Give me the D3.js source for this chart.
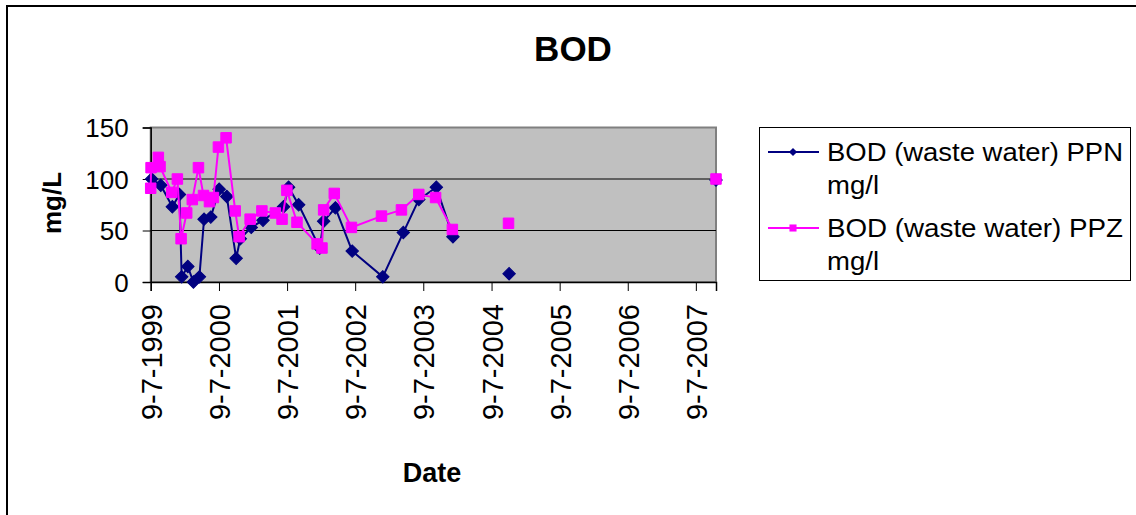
<!DOCTYPE html>
<html>
<head>
<meta charset="utf-8">
<script src="https://cdn.jsdelivr.net/npm/d3@7"></script>
<style>
  html, body { margin: 0; padding: 0; background: #fff; }
  svg { display: block; }
  text { font-family: "Liberation Sans", Arial, sans-serif; fill: #000; }
</style>
</head>
<body>
<svg id="chart" width="1136" height="515"></svg>
<script>
// ---- data ----
const chartTitle = "BOD";
const xAxisTitle = "Date";
const yAxisTitle = "mg/L";
const seriesNames = ["BOD (waste water) PPN", "BOD (waste water) PPZ"];
const seriesUnits = ["mg/l", "mg/l"];

const xTickLabels = ["9-7-1999", "9-7-2000", "9-7-2001", "9-7-2002", "9-7-2003",
                     "9-7-2004", "9-7-2005", "9-7-2006", "9-7-2007"];
const yTicks = [0, 50, 100, 150];

// null entries break the line (empty cells)
const ppnDates = ["1999-07-14","1999-09-01","1999-11-02","1999-12-10","1999-12-22","2000-01-24",
  "2000-02-23","2000-03-26","2000-04-20","2000-05-26","2000-07-10","2000-08-20","2000-10-09",
  "2000-10-31","2000-12-29","2001-03-02","2001-06-20","2001-07-17","2001-09-09","2001-12-31",
  "2002-01-21","2002-03-25","2002-06-23","2002-12-04","2003-03-24","2003-06-15","2003-09-17",
  "2003-12-15","2004-05-01","2004-10-11","2006-01-01","2007-10-25"];
const ppnValues = [100,94,73,85,5,15,
  0,5,61,63,90,83,23,
  42,53,60,73,92,75,33,
  59,72,30,5,48,80,92,
  44,null,8,null,99];

const ppzDates = ["1999-07-09","1999-07-11","1999-08-19","1999-08-28","1999-10-30","1999-11-29",
  "1999-12-19","2000-01-18","2000-02-17","2000-03-21","2000-04-17","2000-05-19","2000-06-09",
  "2000-07-06","2000-08-16","2000-10-04","2000-10-25","2000-12-23","2001-02-24","2001-05-07",
  "2001-06-12","2001-07-08","2001-08-31","2001-12-17","2002-01-12","2002-01-21","2002-03-19",
  "2002-06-19","2002-11-27","2003-03-14","2003-06-15","2003-09-13","2003-12-12","2004-05-01",
  "2004-10-08","2006-01-01","2007-10-25"];
const ppzValues = [91,111,121,112,87,100,
  42,67,80,111,84,78,82,
  131,140,69,44,61,69,67,
  61,89,58,37,33,70,86,
  53,64,70,85,82,51,null,
  57,null,100];

// ---- build ----
const parseISO = d3.timeParse("%Y-%m-%d");
const parseTick = d3.timeParse("%d-%m-%Y");
const tickDates = xTickLabels.map(parseTick);
const fmtTick = d3.timeFormat("%-d-%-m-%Y");

const series = [
  { name: seriesNames[0], unit: seriesUnits[0], color: "#000080", marker: "diamond",
    pts: ppnDates.map((d, i) => ({ date: parseISO(d), value: ppnValues[i] })) },
  { name: seriesNames[1], unit: seriesUnits[1], color: "#FF00FF", marker: "square",
    pts: ppzDates.map((d, i) => ({ date: parseISO(d), value: ppzValues[i] })) }
];

const allDates = series.flatMap(s => s.pts.filter(p => p.value != null).map(p => p.date));

const plot = { left: 150.7, right: 716, top: 127.5, bottom: 282 };

const x = d3.scaleTime()
  .domain([d3.min(allDates), d3.max(allDates)])
  .range([plot.left, plot.right]);
const y = d3.scaleLinear()
  .domain([d3.min(yTicks), d3.max(yTicks)])
  .range([plot.bottom, plot.top]);

const svg = d3.select("#chart");

// chart area border
svg.append("rect")
  .attr("x", 7).attr("y", 6).attr("width", 1150).attr("height", 530)
  .attr("fill", "#fff").attr("stroke", "#000").attr("stroke-width", 2);

// title
svg.append("text")
  .attr("x", 573).attr("y", 61)
  .attr("text-anchor", "middle")
  .attr("font-size", 35).attr("font-weight", "bold")
  .text(chartTitle);

// plot area
svg.append("rect")
  .attr("x", plot.left).attr("y", plot.top)
  .attr("width", plot.right - plot.left).attr("height", plot.bottom - plot.top)
  .attr("fill", "#C0C0C0").attr("stroke", "#808080").attr("stroke-width", 2);

// gridlines
svg.append("g").selectAll("line")
  .data(yTicks.filter(t => t > 0 && t < d3.max(yTicks)))
  .join("line")
  .attr("x1", plot.left).attr("x2", plot.right)
  .attr("y1", d => y(d)).attr("y2", d => y(d))
  .attr("stroke", "#000").attr("stroke-width", 1);

// y axis
const yAxis = d3.axisLeft(y).tickValues(yTicks).tickSize(8).tickPadding(14);
const gy = svg.append("g").attr("transform", `translate(${plot.left},0)`).call(yAxis);
gy.select(".domain").attr("stroke", "#000").attr("stroke-width", 1.5);
gy.selectAll(".tick line").attr("stroke", "#000");
gy.selectAll(".tick text")
  .attr("font-family", "'Liberation Sans', Arial, sans-serif")
  .attr("font-size", 26).attr("fill", "#000").attr("dy", "0.36em");

// x axis
const xAxis = d3.axisBottom(x).tickValues(tickDates).tickFormat(fmtTick).tickSize(9);
const gx = svg.append("g").attr("transform", `translate(0,${plot.bottom})`).call(xAxis);
gx.select(".domain").attr("stroke", "#000").attr("stroke-width", 1.5);
gx.selectAll(".tick line").attr("stroke", "#000");
gx.selectAll(".tick text")
  .attr("font-family", "'Liberation Sans', Arial, sans-serif")
  .attr("font-size", 29).attr("fill", "#000")
  .attr("text-anchor", "end")
  .attr("transform", "rotate(-90)")
  .attr("x", -22).attr("y", 0).attr("dy", "0.36em");

// axis titles
svg.append("text")
  .attr("transform", "translate(61,203) rotate(-90)")
  .attr("text-anchor", "middle")
  .attr("font-size", 26).attr("font-weight", "bold")
  .text(yAxisTitle);
svg.append("text")
  .attr("x", 432).attr("y", 482)
  .attr("text-anchor", "middle")
  .attr("font-size", 27).attr("font-weight", "bold")
  .text(xAxisTitle);

// series
const line = d3.line()
  .defined(p => p.value != null)
  .x(p => x(p.date)).y(p => y(p.value));

const diamond = d3.symbol().type(d3.symbolSquare).size(78);
const square = d3.symbol().type(d3.symbolSquare).size(110);

series.forEach(s => {
  const g = svg.append("g");
  g.append("path")
    .attr("d", line(s.pts))
    .attr("fill", "none").attr("stroke", s.color).attr("stroke-width", 2);
  g.selectAll("path.m")
    .data(s.pts.filter(p => p.value != null))
    .join("path")
    .attr("class", "m")
    .attr("d", s.marker === "diamond" ? diamond() : square())
    .attr("transform", p => `translate(${x(p.date)},${y(p.value)})` + (s.marker === "diamond" ? " rotate(45)" : ""))
    .attr("fill", s.color).attr("stroke", s.color).attr("stroke-width", 1);
});

// legend
const lg = svg.append("g");
lg.append("rect")
  .attr("x", 759.5).attr("y", 127.5).attr("width", 371).attr("height", 153)
  .attr("fill", "#fff").attr("stroke", "#000").attr("stroke-width", 1);

const legendRows = [152, 228];
series.forEach((s, i) => {
  const cy = legendRows[i];
  lg.append("line")
    .attr("x1", 768).attr("x2", 819).attr("y1", cy).attr("y2", cy)
    .attr("stroke", s.color).attr("stroke-width", 2);
  lg.append("path")
    .attr("d", s.marker === "diamond" ? d3.symbol().type(d3.symbolSquare).size(34)() : d3.symbol().type(d3.symbolSquare).size(50)())
    .attr("transform", `translate(793,${cy})` + (s.marker === "diamond" ? " rotate(45)" : ""))
    .attr("fill", s.color);
  lg.append("text")
    .attr("x", 827).attr("y", cy + 8.5)
    .attr("font-size", 26)
    .attr("textLength", 296).attr("lengthAdjust", "spacingAndGlyphs")
    .text(s.name);
  lg.append("text")
    .attr("x", 827).attr("y", cy + 41.5)
    .attr("font-size", 26)
    .attr("textLength", 52).attr("lengthAdjust", "spacingAndGlyphs")
    .text(s.unit);
});
</script>
</body>
</html>
